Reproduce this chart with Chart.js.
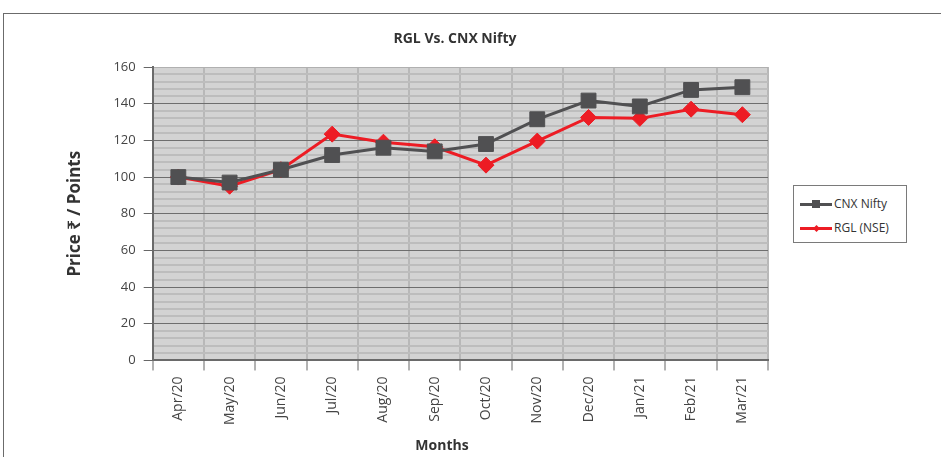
<!DOCTYPE html>
<html>
<head>
<meta charset="utf-8">
<script src="https://cdn.jsdelivr.net/npm/chart.js@4.4.1/dist/chart.umd.min.js"></script>
<style>
  html, body { margin: 0; padding: 0; background: #fff; }
  #wrap { position: relative; width: 941px; height: 457px; overflow: hidden; font-family: 'Open Sans', 'Noto Sans', sans-serif; }
  #frame { position: absolute; left: 3px; top: 13px; width: 950px; height: 460px; border: 1px solid #6b6b6b; }
  #chart { position: absolute; left: 0; top: 0; }
  #title { position: absolute; left: 0; top: 28px; width: 910px; text-align: center; font-size: 14px; font-weight: bold; color: #333; }
  #xtitle { position: absolute; left: 0; top: 435px; width: 884px; text-align: center; font-size: 14px; font-weight: bold; color: #333; }
  #legend { position: absolute; left: 793px; top: 185px; width: 112px; height: 56px; border: 1px solid #7a7a7a; background: #fff;
            font-size: 12px; color: #333; }
  .item { position: absolute; left: 6px; height: 16px; line-height: 16px; white-space: nowrap; }
  .sample { position: absolute; left: 0; top: 7px; width: 32px; height: 3px; }
  .mark { position: absolute; }
  .label { position: absolute; left: 34px; top: 0; }
</style>
</head>
<body>
<div id="wrap">
  <div id="frame"></div>
  <canvas id="chart" width="941" height="457"></canvas>
  <div id="title">RGL Vs. CNX Nifty</div>
  <div id="xtitle">Months</div>
  <div id="legend"></div>
</div>
<script>
const months = ['Apr/20','May/20','Jun/20','Jul/20','Aug/20','Sep/20','Oct/20','Nov/20','Dec/20','Jan/21','Feb/21','Mar/21'];
const cnxNifty = [100, 97, 104, 112, 116, 114, 118, 131.5, 141.7, 138.5, 147.5, 149];
const rglNse   = [100, 95, 104, 123.4, 119, 116.5, 106.5, 119.6, 132.5, 132, 137, 134];
const seriesNames = ['CNX Nifty', 'RGL (NSE)'];
const yTicks = [0, 20, 40, 60, 80, 100, 120, 140, 160];

const FONT = "'Open Sans', 'Noto Sans', 'DejaVu Sans', sans-serif";

// grey plot background
const plotBg = {
  id: 'plotBg',
  beforeDraw(chart) {
    const a = chart.chartArea, ctx = chart.ctx;
    ctx.save();
    ctx.fillStyle = '#d3d3d3';
    ctx.fillRect(a.left, a.top, a.right - a.left, a.bottom - a.top);
    ctx.restore();
  }
};

const isMajor = v => yTicks.includes(v);

const chart = new Chart(document.getElementById('chart'), {
  type: 'line',
  data: {
    labels: months,
    datasets: [
      { label: seriesNames[0], data: cnxNifty, borderColor: '#505052', backgroundColor: '#505052', borderWidth: 3,
        pointStyle: 'rect', pointRadius: 10.5, pointHoverRadius: 10.5, pointBorderWidth: 1, tension: 0 },
      { label: seriesNames[1], data: rglNse, borderColor: '#ed1c24', backgroundColor: '#ed1c24', borderWidth: 3,
        pointStyle: 'rectRot', pointRadius: 8, pointHoverRadius: 8, pointBorderWidth: 1, tension: 0 }
    ]
  },
  options: {
    responsive: false,
    devicePixelRatio: 1,
    animation: false,
    layout: { padding: { left: 65, right: 173, top: 67, bottom: 26 } },
    plugins: {
      legend: { display: false },
      tooltip: { enabled: false },
      title: { display: false }
    },
    scales: {
      x: {
        offset: true,
        grid: { offset: true, color: '#b8b8b8', lineWidth: 2, tickLength: 10, tickColor: '#666', tickWidth: 1 },
        border: { color: '#6a6a6a', width: 2 },
        ticks: { minRotation: 90, maxRotation: 90, color: '#444', padding: 6, font: { family: FONT, size: 14 } }
      },
      y: {
        min: 0, max: 160,
        ticks: { stepSize: 4, autoSkip: false, color: '#444', padding: 8, font: { family: FONT, size: 13 },
                 callback: v => isMajor(v) ? v : '' },
        grid: {
          color: c => c.tick && isMajor(c.tick.value) ? (c.tick.value === 160 ? '#b0b0b0' : '#6e6e6e') : '#bdbdbd',
          lineWidth: c => c.tick && isMajor(c.tick.value) ? 1 : 2,
          tickColor: c => c.tick && isMajor(c.tick.value) ? '#666' : 'rgba(0,0,0,0)',
          tickLength: 9
        },
        border: { color: '#6a6a6a', width: 2 },
        title: { display: true, text: 'Price ₹ / Points', color: '#333', font: { family: FONT, size: 17, weight: 'bold' }, padding: { top: 0, bottom: 20 } }
      }
    }
  },
  plugins: [plotBg]
});

// legend box
const legend = document.getElementById('legend');
chart.data.datasets.forEach((ds, i) => {
  const item = document.createElement('div');
  item.className = 'item';
  item.style.top = (10 + i * 24) + 'px';
  const sample = document.createElement('span');
  sample.className = 'sample';
  sample.style.background = ds.borderColor;
  const mark = document.createElement('span');
  mark.className = 'mark';
  mark.style.background = ds.borderColor;
  if (ds.pointStyle === 'rect') {
    mark.style.cssText += 'left:12px;top:4px;width:8px;height:8px;';
  } else {
    mark.style.cssText += 'left:14px;top:6px;width:5px;height:5px;transform:rotate(45deg);';
  }
  const label = document.createElement('span');
  label.className = 'label';
  label.textContent = ds.label;
  item.append(sample, mark, label);
  legend.appendChild(item);
});
</script>
</body>
</html>
